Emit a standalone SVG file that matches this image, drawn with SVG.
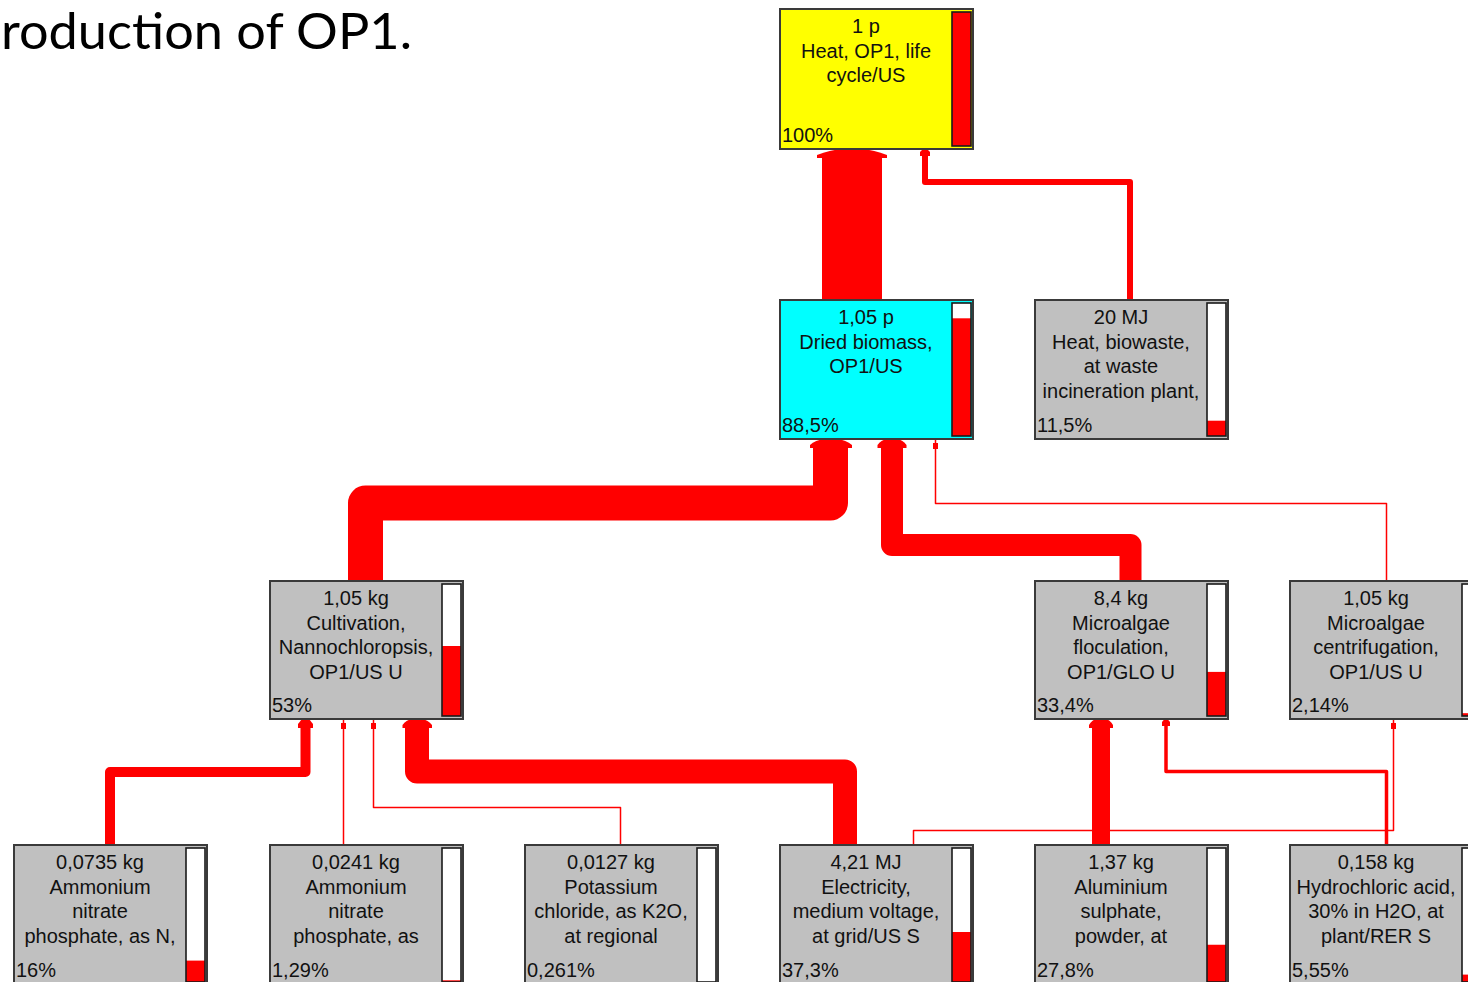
<svg xmlns="http://www.w3.org/2000/svg" width="1468" height="982" viewBox="0 0 1468 982">
<style>
.node{stroke:#3a3a3a;stroke-width:2}
.gray{fill:#c0c0c0}
.yellow{fill:#ffff00}
.cyan{fill:#00ffff}
.barbg{fill:#ffffff}
.barfill{fill:#ff0000}
.barframe{fill:none;stroke:#1a1a1a;stroke-width:1.6}
.t{font-family:"Liberation Sans",Arial,sans-serif;font-size:20px;fill:#111;text-anchor:middle}
.p{font-family:"Liberation Sans",Arial,sans-serif;font-size:20px;fill:#111}
.c{fill:none;stroke:#ff0000;stroke-linejoin:round}
.a{fill:#ff0000}
.title{font-family:Lato,"Open Sans",sans-serif;font-size:50px;fill:#000}
</style>
<rect width="1468" height="982" fill="#ffffff"/>
<text class="title" x="1" y="49" textLength="411" lengthAdjust="spacingAndGlyphs">roduction of OP1.</text>

<g id="connectors">
  <!-- Dried biomass -> Heat OP1 -->
  <path class="c" d="M852,300 V155" stroke-width="60"/>
  <path class="a" d="M842,149 L862,149 Q874,150 887,155 L887,158 L817,158 L817,155 Q830,150 842,149 Z"/>
  <!-- Heat biowaste -> Heat OP1 -->
  <path class="c" d="M1130,300 V182 H925 V152" stroke-width="6"/>
  <path class="a" d="M923,149 L927,149 L930,152 L930,156 L920,156 L920,152 Z"/>
  <!-- Cultivation -> Dried biomass -->
  <path class="c" d="M365.5,581 V503 H830.5 V446" stroke-width="35"/>
  <path class="a" d="M825,439 L837,439 Q846,440 852,445 L852,448 L810,448 L810,445 Q815,440 825,439 Z"/>
  <!-- Floculation -> Dried biomass -->
  <path class="c" d="M1130.5,581 V545 H892 V446" stroke-width="22"/>
  <path class="a" d="M887,439 L897,439 Q903,440 906.5,445 L906.5,448 L877.5,448 L877.5,445 Q881,440 887,439 Z"/>
  <!-- Centrifugation -> Dried biomass -->
  <path class="c" d="M1386.5,581 V503.5 H935.5 V440" stroke-width="1.5"/>
  <rect class="a" x="933" y="443" width="5" height="6"/>
  <!-- Ammonium N -> Cultivation -->
  <path class="c" d="M110,845 V772 H305.5 V724" stroke-width="10"/>
  <path class="a" d="M302,719 L309,719 L313,724 L313,728 L298,728 L298,724 Z"/>
  <!-- Ammonium 2 -> Cultivation -->
  <path class="c" d="M343.5,845 V720" stroke-width="1.5"/>
  <rect class="a" x="341" y="723" width="5" height="6"/>
  <!-- Potassium -> Cultivation -->
  <path class="c" d="M620.5,845 V807.5 H373.5 V720" stroke-width="1.5"/>
  <rect class="a" x="371" y="723" width="5" height="6"/>
  <!-- Electricity -> Cultivation -->
  <path class="c" d="M845,845 V771.5 H417 V726" stroke-width="24"/>
  <path class="a" d="M412,719 L422,719 Q428,720 432,725 L432,728 L402.5,728 L402.5,725 Q406,720 412,719 Z"/>
  <!-- Electricity -> Centrifugation -->
  <path class="c" d="M913.5,845 V830.5 H1393.5 V720" stroke-width="1.5"/>
  <rect class="a" x="1391" y="723" width="5" height="6"/>
  <!-- Aluminium sulphate -> Floculation -->
  <path class="c" d="M1101,845 V726" stroke-width="18"/>
  <path class="a" d="M1096,719 L1106,719 Q1110,720 1113,725 L1113,728 L1089,728 L1089,725 Q1092,720 1096,719 Z"/>
  <!-- HCl -> Floculation -->
  <path class="c" d="M1386.5,845 V771.5 H1166 V722" stroke-width="3.5"/>
  <path class="a" d="M1164.5,719 L1167.5,719 L1170,722 L1170,726 L1162,726 L1162,722 Z"/>
</g>

<g id="n_heat_op1">
  <rect class="node yellow" x="780" y="9" width="193" height="140"/>
  <rect class="barbg" x="952" y="12" width="19" height="134"/>
  <rect class="barfill" x="952" y="12" width="19" height="134"/>
  <rect class="barframe" x="952" y="12" width="19" height="134"/>
  <text class="t" x="866" y="33">1 p</text>
  <text class="t" x="866" y="57.5">Heat, OP1, life</text>
  <text class="t" x="866" y="82">cycle/US</text>
  <text class="p" x="782" y="142">100%</text>
</g>

<g id="n_dried">
  <rect class="node cyan" x="780" y="300" width="193" height="139"/>
  <rect class="barbg" x="952" y="303" width="19" height="133"/>
  <rect class="barfill" x="952" y="318.3" width="19" height="117.7"/>
  <rect class="barframe" x="952" y="303" width="19" height="133"/>
  <text class="t" x="866" y="324">1,05 p</text>
  <text class="t" x="866" y="348.5">Dried biomass,</text>
  <text class="t" x="866" y="373">OP1/US</text>
  <text class="p" x="782" y="432">88,5%</text>
</g>

<g id="n_heat_biowaste">
  <rect class="node gray" x="1035" y="300" width="193" height="139"/>
  <rect class="barbg" x="1207" y="303" width="19" height="133"/>
  <rect class="barfill" x="1207" y="420.7" width="19" height="15.3"/>
  <rect class="barframe" x="1207" y="303" width="19" height="133"/>
  <text class="t" x="1121" y="324">20 MJ</text>
  <text class="t" x="1121" y="348.5">Heat, biowaste,</text>
  <text class="t" x="1121" y="373">at waste</text>
  <text class="t" x="1121" y="397.5">incineration plant,</text>
  <text class="p" x="1037" y="432">11,5%</text>
</g>

<g id="n_cultivation">
  <rect class="node gray" x="270" y="581" width="193" height="138"/>
  <rect class="barbg" x="442" y="584" width="19" height="132"/>
  <rect class="barfill" x="442" y="646" width="19" height="70"/>
  <rect class="barframe" x="442" y="584" width="19" height="132"/>
  <text class="t" x="356" y="605">1,05 kg</text>
  <text class="t" x="356" y="629.5">Cultivation,</text>
  <text class="t" x="356" y="654">Nannochloropsis,</text>
  <text class="t" x="356" y="678.5">OP1/US U</text>
  <text class="p" x="272" y="712">53%</text>
</g>

<g id="n_floculation">
  <rect class="node gray" x="1035" y="581" width="193" height="138"/>
  <rect class="barbg" x="1207" y="584" width="19" height="132"/>
  <rect class="barfill" x="1207" y="671.9" width="19" height="44.1"/>
  <rect class="barframe" x="1207" y="584" width="19" height="132"/>
  <text class="t" x="1121" y="605">8,4 kg</text>
  <text class="t" x="1121" y="629.5">Microalgae</text>
  <text class="t" x="1121" y="654">floculation,</text>
  <text class="t" x="1121" y="678.5">OP1/GLO U</text>
  <text class="p" x="1037" y="712">33,4%</text>
</g>

<g id="n_centrifugation">
  <rect class="node gray" x="1290" y="581" width="193" height="138"/>
  <rect class="barbg" x="1462" y="584" width="19" height="132"/>
  <rect class="barfill" x="1462" y="713.2" width="19" height="2.8"/>
  <rect class="barframe" x="1462" y="584" width="19" height="132"/>
  <text class="t" x="1376" y="605">1,05 kg</text>
  <text class="t" x="1376" y="629.5">Microalgae</text>
  <text class="t" x="1376" y="654">centrifugation,</text>
  <text class="t" x="1376" y="678.5">OP1/US U</text>
  <text class="p" x="1292" y="712">2,14%</text>
</g>

<g id="n_ammonium_n">
  <rect class="node gray" x="14" y="845" width="193" height="140"/>
  <rect class="barbg" x="186" y="848" width="19" height="134"/>
  <rect class="barfill" x="186" y="960.6" width="19" height="21.4"/>
  <rect class="barframe" x="186" y="848" width="19" height="134"/>
  <text class="t" x="100" y="869">0,0735 kg</text>
  <text class="t" x="100" y="893.5">Ammonium</text>
  <text class="t" x="100" y="918">nitrate</text>
  <text class="t" x="100" y="942.5">phosphate, as N,</text>
  <text class="p" x="16" y="977">16%</text>
</g>

<g id="n_ammonium_p">
  <rect class="node gray" x="270" y="845" width="193" height="140"/>
  <rect class="barbg" x="442" y="848" width="19" height="134"/>
  <rect class="barfill" x="442" y="980.3" width="19" height="1.7"/>
  <rect class="barframe" x="442" y="848" width="19" height="134"/>
  <text class="t" x="356" y="869">0,0241 kg</text>
  <text class="t" x="356" y="893.5">Ammonium</text>
  <text class="t" x="356" y="918">nitrate</text>
  <text class="t" x="356" y="942.5">phosphate, as</text>
  <text class="p" x="272" y="977">1,29%</text>
</g>

<g id="n_potassium">
  <rect class="node gray" x="525" y="845" width="193" height="140"/>
  <rect class="barbg" x="697" y="848" width="19" height="134"/>
  <rect class="barframe" x="697" y="848" width="19" height="134"/>
  <text class="t" x="611" y="869">0,0127 kg</text>
  <text class="t" x="611" y="893.5">Potassium</text>
  <text class="t" x="611" y="918">chloride, as K2O,</text>
  <text class="t" x="611" y="942.5">at regional</text>
  <text class="p" x="527" y="977">0,261%</text>
</g>

<g id="n_electricity">
  <rect class="node gray" x="780" y="845" width="193" height="140"/>
  <rect class="barbg" x="952" y="848" width="19" height="134"/>
  <rect class="barfill" x="952" y="932" width="19" height="50"/>
  <rect class="barframe" x="952" y="848" width="19" height="134"/>
  <text class="t" x="866" y="869">4,21 MJ</text>
  <text class="t" x="866" y="893.5">Electricity,</text>
  <text class="t" x="866" y="918">medium voltage,</text>
  <text class="t" x="866" y="942.5">at grid/US S</text>
  <text class="p" x="782" y="977">37,3%</text>
</g>

<g id="n_aluminium">
  <rect class="node gray" x="1035" y="845" width="193" height="140"/>
  <rect class="barbg" x="1207" y="848" width="19" height="134"/>
  <rect class="barfill" x="1207" y="944.75" width="19" height="37.25"/>
  <rect class="barframe" x="1207" y="848" width="19" height="134"/>
  <text class="t" x="1121" y="869">1,37 kg</text>
  <text class="t" x="1121" y="893.5">Aluminium</text>
  <text class="t" x="1121" y="918">sulphate,</text>
  <text class="t" x="1121" y="942.5">powder, at</text>
  <text class="p" x="1037" y="977">27,8%</text>
</g>

<g id="n_hcl">
  <rect class="node gray" x="1290" y="845" width="193" height="140"/>
  <rect class="barbg" x="1462" y="848" width="19" height="134"/>
  <rect class="barfill" x="1462" y="974.6" width="19" height="7.4"/>
  <rect class="barframe" x="1462" y="848" width="19" height="134"/>
  <text class="t" x="1376" y="869">0,158 kg</text>
  <text class="t" x="1376" y="893.5">Hydrochloric acid,</text>
  <text class="t" x="1376" y="918">30% in H2O, at</text>
  <text class="t" x="1376" y="942.5">plant/RER S</text>
  <text class="p" x="1292" y="977">5,55%</text>
</g>
</svg>
